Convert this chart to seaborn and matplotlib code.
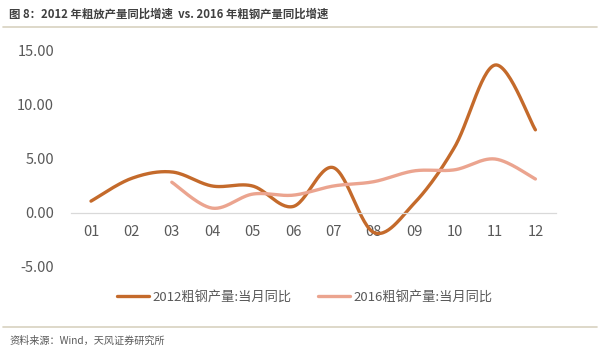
import numpy as np
import pandas as pd
import matplotlib
matplotlib.use("Agg")
import matplotlib.pyplot as plt
import seaborn as sns
from matplotlib.lines import Line2D

months = ["01", "02", "03", "04", "05", "06", "07", "08", "09", "10", "11", "12"]
s2012 = [1.1, 3.2, 3.8, 2.5, 2.5, 0.6, 4.2, -1.8, 0.9, 6.1, 13.7, 7.7]
s2016 = [None, None, 2.85, 0.45, 1.75, 1.65, 2.5, 2.9, 3.9, 4.0, 5.0, 3.15]
yticks = [-5, 0, 5, 10, 15]
name2012 = "2012粗钢产量:当月同比"
name2016 = "2016粗钢产量:当月同比"
title = "图 8：2012 年粗放产量同比增速  vs. 2016 年粗钢产量同比增速"
source = "资料来源：Wind，天风证券研究所"

c2012 = "#C46A2B"
c2016 = "#EBA48F"

sns.set_theme(style="white")
plt.rcParams["font.family"] = ["Noto Sans CJK SC", "DejaVu Sans"]


def smooth(xs, ys, n=30):
    # Catmull-Rom style smoothing (as in spreadsheet "smoothed line")
    xs = np.asarray(xs, float)
    ys = np.asarray(ys, float)
    px, py = [], []
    for i in range(len(xs) - 1):
        p0 = np.array([xs[max(i - 1, 0)], ys[max(i - 1, 0)]])
        p1 = np.array([xs[i], ys[i]])
        p2 = np.array([xs[i + 1], ys[i + 1]])
        p3 = np.array([xs[min(i + 2, len(xs) - 1)], ys[min(i + 2, len(xs) - 1)]])
        c1 = p1 + (p2 - p0) / 6.0
        c2 = p2 - (p3 - p1) / 6.0
        t = np.linspace(0, 1, n, endpoint=(i == len(xs) - 2))[:, None]
        pts = ((1 - t) ** 3) * p1 + 3 * ((1 - t) ** 2) * t * c1 + 3 * (1 - t) * t ** 2 * c2 + t ** 3 * p2
        px.extend(pts[:, 0]); py.extend(pts[:, 1])
    return np.array(px), np.array(py)


fig = plt.figure(figsize=(6.0, 3.54), dpi=100)
ax = fig.add_axes([70.8 / 600, 1 - 267 / 354, (555.6 - 70.8) / 600, (267 - 51) / 354])

x12 = list(range(len(months)))
sx, sy = smooth(x12, s2012)
sns.lineplot(x=sx, y=sy, ax=ax, color=c2012, linewidth=2.4, sort=False, estimator=None)
idx16 = [i for i, v in enumerate(s2016) if v is not None]
sx2, sy2 = smooth(idx16, [s2016[i] for i in idx16])
sns.lineplot(x=sx2, y=sy2, ax=ax, color=c2016, linewidth=2.4, sort=False, estimator=None)

ax.set_xlim(-0.5, len(months) - 0.5)
ax.set_ylim(-5, 15)
ax.set_yticks(yticks)
ax.set_yticklabels([f"{v:.2f}" for v in yticks])
ax.set_xticks(x12)
ax.set_xticklabels(months)
ax.set_xticks(np.arange(-0.5, len(months), 1.0), minor=True)
for s in ["top", "right", "left"]:
    ax.spines[s].set_visible(False)
ax.spines["bottom"].set_position(("data", 0))
ax.spines["bottom"].set_color("#D9D9D9")
ax.spines["bottom"].set_linewidth(0.9)
ax.tick_params(axis="x", which="major", length=0, pad=9, labelsize=10.5, labelcolor="#595959")
ax.tick_params(axis="x", which="minor", length=4, color="#D9D9D9", width=0.9, direction="out")
ax.tick_params(axis="y", length=0, pad=12, labelsize=10.5, labelcolor="#595959")
ax.set_xlabel(""); ax.set_ylabel("")
ax.grid(False)

handles = [Line2D([0], [0], color=c2012, lw=2.4), Line2D([0], [0], color=c2016, lw=2.4)]
fig.legend(handles, [name2012, name2016], loc="center", bbox_to_anchor=(305 / 600, 1 - 297 / 354),
           ncol=2, frameon=False, fontsize=9.5, handlelength=2.4, handletextpad=0.3,
           columnspacing=2.0, labelcolor="#595959")

fig.text(0.015, 1 - 14 / 354, title, fontsize=8.2, fontweight="bold", color="#404040", va="center")
fig.add_artist(Line2D([0.005, 0.995], [1 - 27 / 354, 1 - 27 / 354], color="#D8D2C0", lw=1.2))
fig.add_artist(Line2D([0.005, 0.995], [1 - 327 / 354, 1 - 327 / 354], color="#D8D2C0", lw=1.2))
fig.text(0.015, 1 - 341 / 354, source, fontsize=7.3, color="#595959", va="center")

fig.savefig("out.png", dpi=100)
